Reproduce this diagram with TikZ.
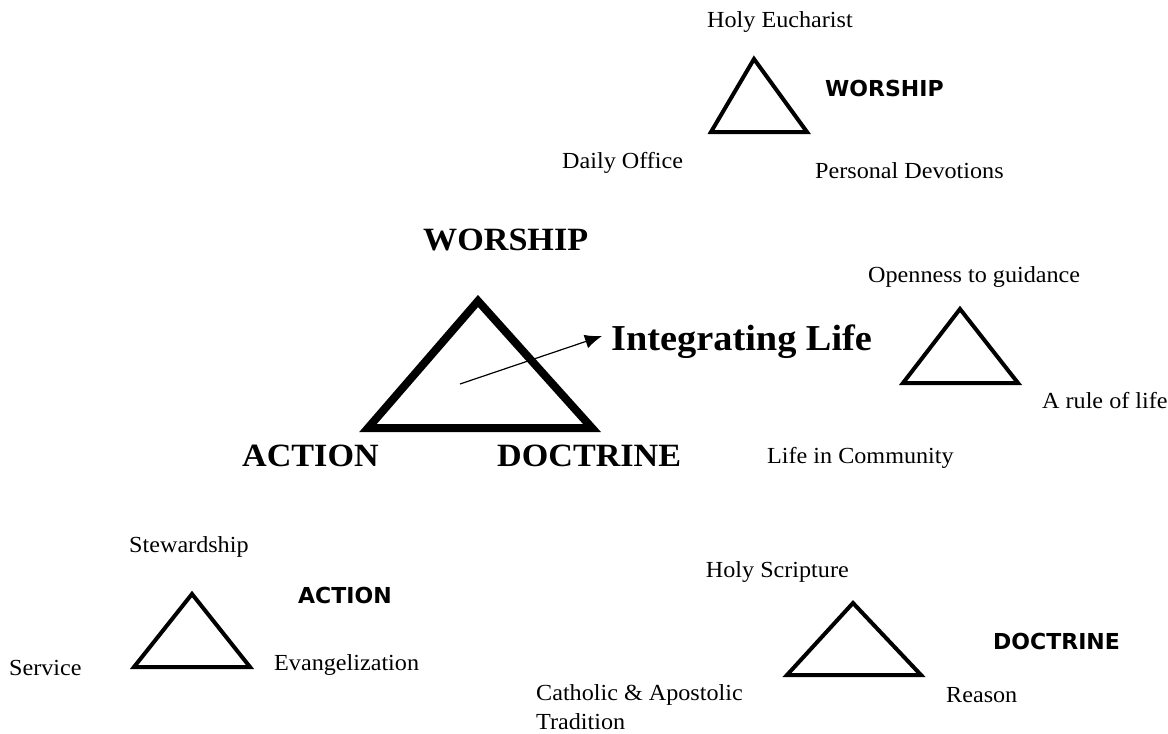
\documentclass[tikz,border=0pt]{standalone}
\usepackage{fontspec}
\setmainfont[FakeStretch=1.05]{Liberation Serif}
\newfontfamily\headsans{DejaVu Sans}
\usetikzlibrary{arrows.meta}
\tikzset{
  lbl/.style={anchor=west, inner sep=0pt, font=\fontsize{23}{27}\selectfont},
  big/.style={anchor=west, inner sep=0pt, font=\fontsize{32.5}{38}\selectfont\bfseries},
  sub/.style={anchor=west, inner sep=0pt, font=\headsans\fontsize{22}{26}\selectfont\bfseries},
  tri/.style={draw=black, line width=4pt, line join=miter},
  bigtri/.style={draw=black, line width=8pt, line join=miter},
  arr/.style={line width=1.2pt, -{Latex[length=17pt, width=14pt]}}
}
\begin{document}
\begin{tikzpicture}[x=1pt, y=-1pt]
\path[use as bounding box, fill=white] (0,0) rectangle (1168,734);

% main triangle
\draw[bigtri] (478,301) -- (368,428) -- (592,428) -- cycle;
\node[big] (worship) at (423,240) {WORSHIP};
\node[big] (action) at (242,456) {ACTION};
\node[big] (doctrine) at (497,456) {DOCTRINE};
\node[big, font=\fontsize{36.5}{42}\selectfont\bfseries] (integ) at (611,342) {Integrating Life};
\coordinate (start) at (460,384);
\coordinate (tip) at (602,336);
\draw[arr] (start) -- (tip);

% worship triangle
\draw[tri] (754,59) -- (711,132) -- (807,132) -- cycle;
\node[lbl] (eucharist) at (707,22) {Holy Eucharist};
\node[sub] (worshipsub) at (825,88) {WORSHIP};
\node[lbl] (office) at (562,163) {Daily Office};
\node[lbl] (devotions) at (815,171) {Personal Devotions};

% integrating life triangle
\draw[tri] (960,309) -- (903,383) -- (1018,383) -- cycle;
\node[lbl] (openness) at (868,277) {Openness to guidance};
\node[lbl] (rule) at (1042,401) {A rule of life};
\node[lbl] (community) at (767,458) {Life in Community};

% action triangle
\draw[tri] (192,594) -- (134,667) -- (250,667) -- cycle;
\node[lbl] (stewardship) at (129,547) {Stewardship};
\node[sub] (actionsub) at (298,595) {ACTION};
\node[lbl] (service) at (9,668) {Service};
\node[lbl] (evangel) at (274,665) {Evangelization};

% doctrine triangle
\draw[tri] (853,603) -- (787,675) -- (921,675) -- cycle;
\node[lbl, anchor=east] (scripture) at (849,572) {Holy Scripture};
\node[sub] (doctrinesub) at (993,641) {DOCTRINE};
\node[lbl] (catholic) at (536,695) {Catholic \& Apostolic};
\node[lbl] (tradition) at (536,722) {Tradition};
\node[lbl] (reason) at (946,695) {Reason};
\end{tikzpicture}
\end{document}
